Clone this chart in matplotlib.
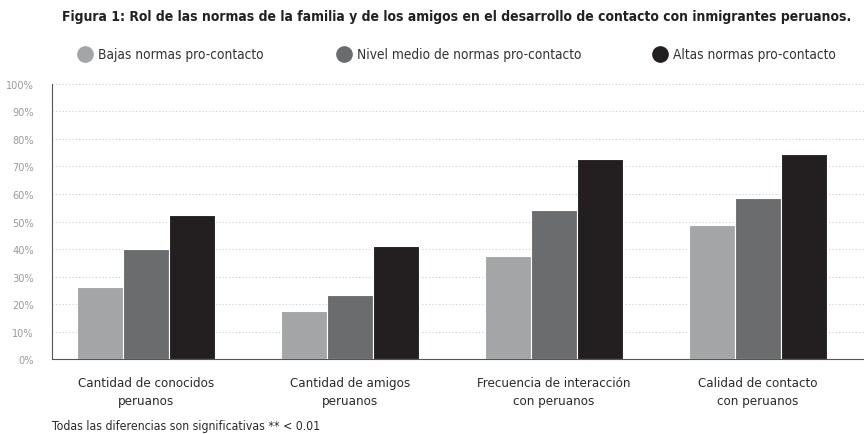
import matplotlib
matplotlib.use("Agg")
import matplotlib.pyplot as plt
import numpy as np
from matplotlib.lines import Line2D

plt.rcParams['font.family'] = ['DejaVu Sans']
plt.rcParams['font.stretch'] = 'condensed'

categorias = ["Cantidad de conocidos\nperuanos", "Cantidad de amigos\nperuanos",
              "Frecuencia de interacción\ncon peruanos", "Calidad de contacto\ncon peruanos"]
series = ["Bajas normas pro-contacto", "Nivel medio de normas pro-contacto",
          "Altas normas pro-contacto"]
bajas = [26.2, 17.6, 37.6, 48.7]
medias = [40.0, 23.3, 54.2, 58.5]
altas = [52.5, 41.2, 72.7, 74.4]
colores = ["#a3a5a7", "#6a6c6e", "#231f20"]
yticks = [0, 10, 20, 30, 40, 50, 60, 70, 80, 90, 100]

fig = plt.figure(figsize=(8.64, 4.35), dpi=100)
ax = fig.add_axes([0.060, 0.172, 0.94, 0.633])

x = np.arange(len(categorias))
w = 0.226
for i, vals in enumerate([bajas, medias, altas]):
    ax.bar(x + (i - 1) * w, vals, width=w, color=colores[i],
           edgecolor="white", linewidth=0.8, zorder=3)

ax.set_xlim(-0.46, 3.52)
ax.set_ylim(0, 100)
ax.set_yticks(yticks)
ax.set_yticklabels([f"{t}%" for t in yticks], fontsize=7.8, color="#9a9a9a")
ax.set_xticks(x)
ax.set_xticklabels(categorias, fontsize=9.5, color="#2a2a2a", linespacing=1.5)
ax.tick_params(axis="both", length=0)
ax.tick_params(axis="y", pad=13)
ax.tick_params(axis="x", pad=12)
for t in yticks[1:]:
    ax.axhline(t, color="#cfcfcf", linestyle=(0, (1, 2)), linewidth=0.8, zorder=1)
for s in ["top", "right"]:
    ax.spines[s].set_visible(False)
ax.spines["left"].set_color("#555555")
ax.spines["bottom"].set_color("#555555")

fig.text(0.529, 0.960, "Figura 1: Rol de las normas de la familia y de los amigos en el desarrollo de contacto con inmigrantes peruanos.",
         ha="center", va="center", fontsize=10, fontweight="bold", color="#222222")

pos = [85, 344, 660]
for i, nombre in enumerate(series):
    fig.add_artist(Line2D([pos[i] / 864], [1 - 55 / 435], marker="o", markersize=11,
                          color=colores[i], transform=fig.transFigure))
    fig.text((pos[i] + 13) / 864, 1 - 55 / 435, nombre, ha="left", va="center",
             fontsize=9.8, color="#333333")

fig.text(52 / 864, 1 - 427 / 435, "Todas las diferencias son significativas ** < 0.01",
         ha="left", va="center", fontsize=8.8, color="#2a2a2a")

fig.savefig("out.png", dpi=100)
